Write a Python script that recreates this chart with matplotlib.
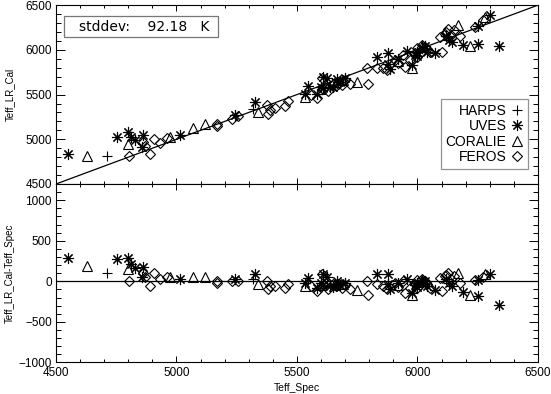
import numpy as np
import matplotlib
matplotlib.use("Agg")
import matplotlib.pyplot as plt
from matplotlib.patches import Rectangle
from matplotlib.ticker import MultipleLocator

plt.rcParams["font.family"] = ["Liberation Sans", "DejaVu Sans"]

# ---------- Data (Teff_Spec and Teff_LR_Cal - Teff_Spec, K) ----------
harps_spec = [4710, 5319]
harps_diff = [108, 25]

coralie_spec = [4627, 4800, 4973, 5070, 5118, 5339, 5533, 5600, 5690, 5750,
                5920, 5976, 6020, 6169, 6218, 6280]
coralie_diff = [185, 150, 55, 55, 55, -37, -58, -40, -30, -112,
                -50, -174, 20, 108, -174, 87]

uves_spec = [4551, 4752, 4800, 4810, 4828, 4855, 4862, 5015, 5243, 5326,
             5533, 5547, 5582, 5600, 5609, 5610, 5623, 5637, 5650, 5665,
             5670, 5680, 5700, 5830, 5879, 5879, 5886, 5920, 5955, 5976,
             5990, 6000, 6000, 6017, 6030, 6038, 6073, 6120, 6130, 6142,
             6190, 6252, 6252, 6301, 6340]
uves_diff = [283, 274, 283, 212, 162, 58, 183, 33, 25, 87,
             -25, 46, -79, -20, 87, -40, 58, -58, -70, 4,
             -30, -40, -20, 87, 87, -37, -100, -20, 33, -141,
             -50, -20, -70, 4, 10, -58, -108, 30, -20, -58,
             -133, -183, 16, 87, -295]

feros_spec = [4804, 4860, 4870, 4890, 4907, 4932, 4960, 5167, 5170, 5229,
              5256, 5374, 5381, 5388, 5409, 5450, 5463, 5560, 5582, 5602,
              5610, 5620, 5630, 5650, 5660, 5670, 5685, 5700, 5720, 5789,
              5796, 5830, 5858, 5872, 5907, 5921, 5941, 5948, 5970, 5990,
              5996, 6000, 6010, 6017, 6030, 6040, 6052, 6093, 6100, 6115,
              6120, 6128, 6140, 6150, 6176, 6239, 6273]
feros_diff = [4, 108, 50, -58, 100, 25, 50, -16, 0, 0,
              0, 4, -100, -58, -58, -79, -37, -60, -120, 87,
              -50, -20, -91, -30, -60, -50, -79, -40, -100, 4,
              -174, -37, -58, -100, -16, -66, 4, -141, -80, -30,
              -79, 20, -40, 33, 0, -30, -79, 46, -120, 60,
              80, 108, 30, 70, -16, 16, 58]

stddev_label = "stddev:    92.18   K"
teff_range = [4500, 6500]

# ---------- Marker styles (IDL-like psym) ----------
series = [
    ("HARPS", harps_spec, harps_diff, dict(marker="+", ms=7.8)),
    ("UVES", uves_spec, uves_diff, dict(marker=(8, 2, 0), ms=8.0)),
    ("CORALIE", coralie_spec, coralie_diff, dict(marker="^", ms=7.5)),
    ("FEROS", feros_spec, feros_diff, dict(marker="D", ms=5.3)),
]

# ---------- Layout ----------
fig = plt.figure(figsize=(5.51, 3.94), dpi=100)
ax_top = fig.add_axes([0.1016, 0.533, 0.8748, 0.454])
ax_bot = fig.add_axes([0.1016, 0.080, 0.8748, 0.453], sharex=ax_top)

for ax in (ax_top, ax_bot):
    for sp in ax.spines.values():
        sp.set_linewidth(0.8)
    ax.tick_params(which="both", direction="in", top=True, right=True,
                   width=0.7, labelsize=8.5, pad=3)
    ax.tick_params(axis="x", which="major", length=4)
    ax.tick_params(axis="x", which="minor", length=2)
    ax.tick_params(axis="y", which="major", length=6.5)
    ax.tick_params(axis="y", which="minor", length=3.3)
    ax.xaxis.set_major_locator(MultipleLocator(500))
    ax.xaxis.set_minor_locator(MultipleLocator(100))
    ax.yaxis.set_minor_locator(MultipleLocator(100))

# ---------- Top: calibrated vs spectroscopic ----------
ax_top.plot(teff_range, teff_range, color="black", lw=0.9, zorder=1)
for name, spec, diff, style in series:
    spec = np.array(spec, dtype=float)
    cal = spec + np.array(diff, dtype=float)
    ax_top.plot(spec, cal, linestyle="None", color="black", mfc="none",
                mew=0.8, label=name, **style)

ax_top.set_xlim(teff_range)
ax_top.set_ylim(4500, 6500)
ax_top.yaxis.set_major_locator(MultipleLocator(500))
ax_top.tick_params(axis="x", labelbottom=False)
ax_top.set_ylabel("Teff_LR_Cal", fontsize=7)
ax_top.yaxis.set_label_coords(-0.085, 0.5)

ax_top.add_patch(Rectangle((0.0166, 0.821), 0.3195, 0.118, transform=ax_top.transAxes,
                           fill=False, edgecolor="#777777", lw=0.9, zorder=3))
ax_top.text(0.047, 0.88, stddev_label, transform=ax_top.transAxes,
            fontsize=10, va="center", ha="left", family="DejaVu Sans")

leg = ax_top.legend(loc="lower right", bbox_to_anchor=(0.979, 0.084),
                    borderaxespad=0, markerfirst=False, fancybox=False,
                    frameon=True, fontsize=10, labelspacing=0.1,
                    handlelength=0.9, handletextpad=0.3, borderpad=0.35)
leg.get_frame().set_edgecolor("#777777")
leg.get_frame().set_linewidth(0.9)

# ---------- Bottom: residuals ----------
ax_bot.axhline(0, color="black", lw=0.9, zorder=1)
for name, spec, diff, style in series:
    ax_bot.plot(spec, diff, linestyle="None", color="black", mfc="none",
                mew=0.8, **style)

ax_bot.set_ylim(-1000, 1200)
ax_bot.set_yticks([-1000, -500, 0, 500, 1000])
ax_bot.set_xlabel("Teff_Spec", fontsize=7.5, labelpad=3)
ax_bot.set_ylabel("Teff_LR_Cal-Teff_Spec", fontsize=7)
ax_bot.yaxis.set_label_coords(-0.085, 0.5)

fig.savefig("out.png", dpi=100)
